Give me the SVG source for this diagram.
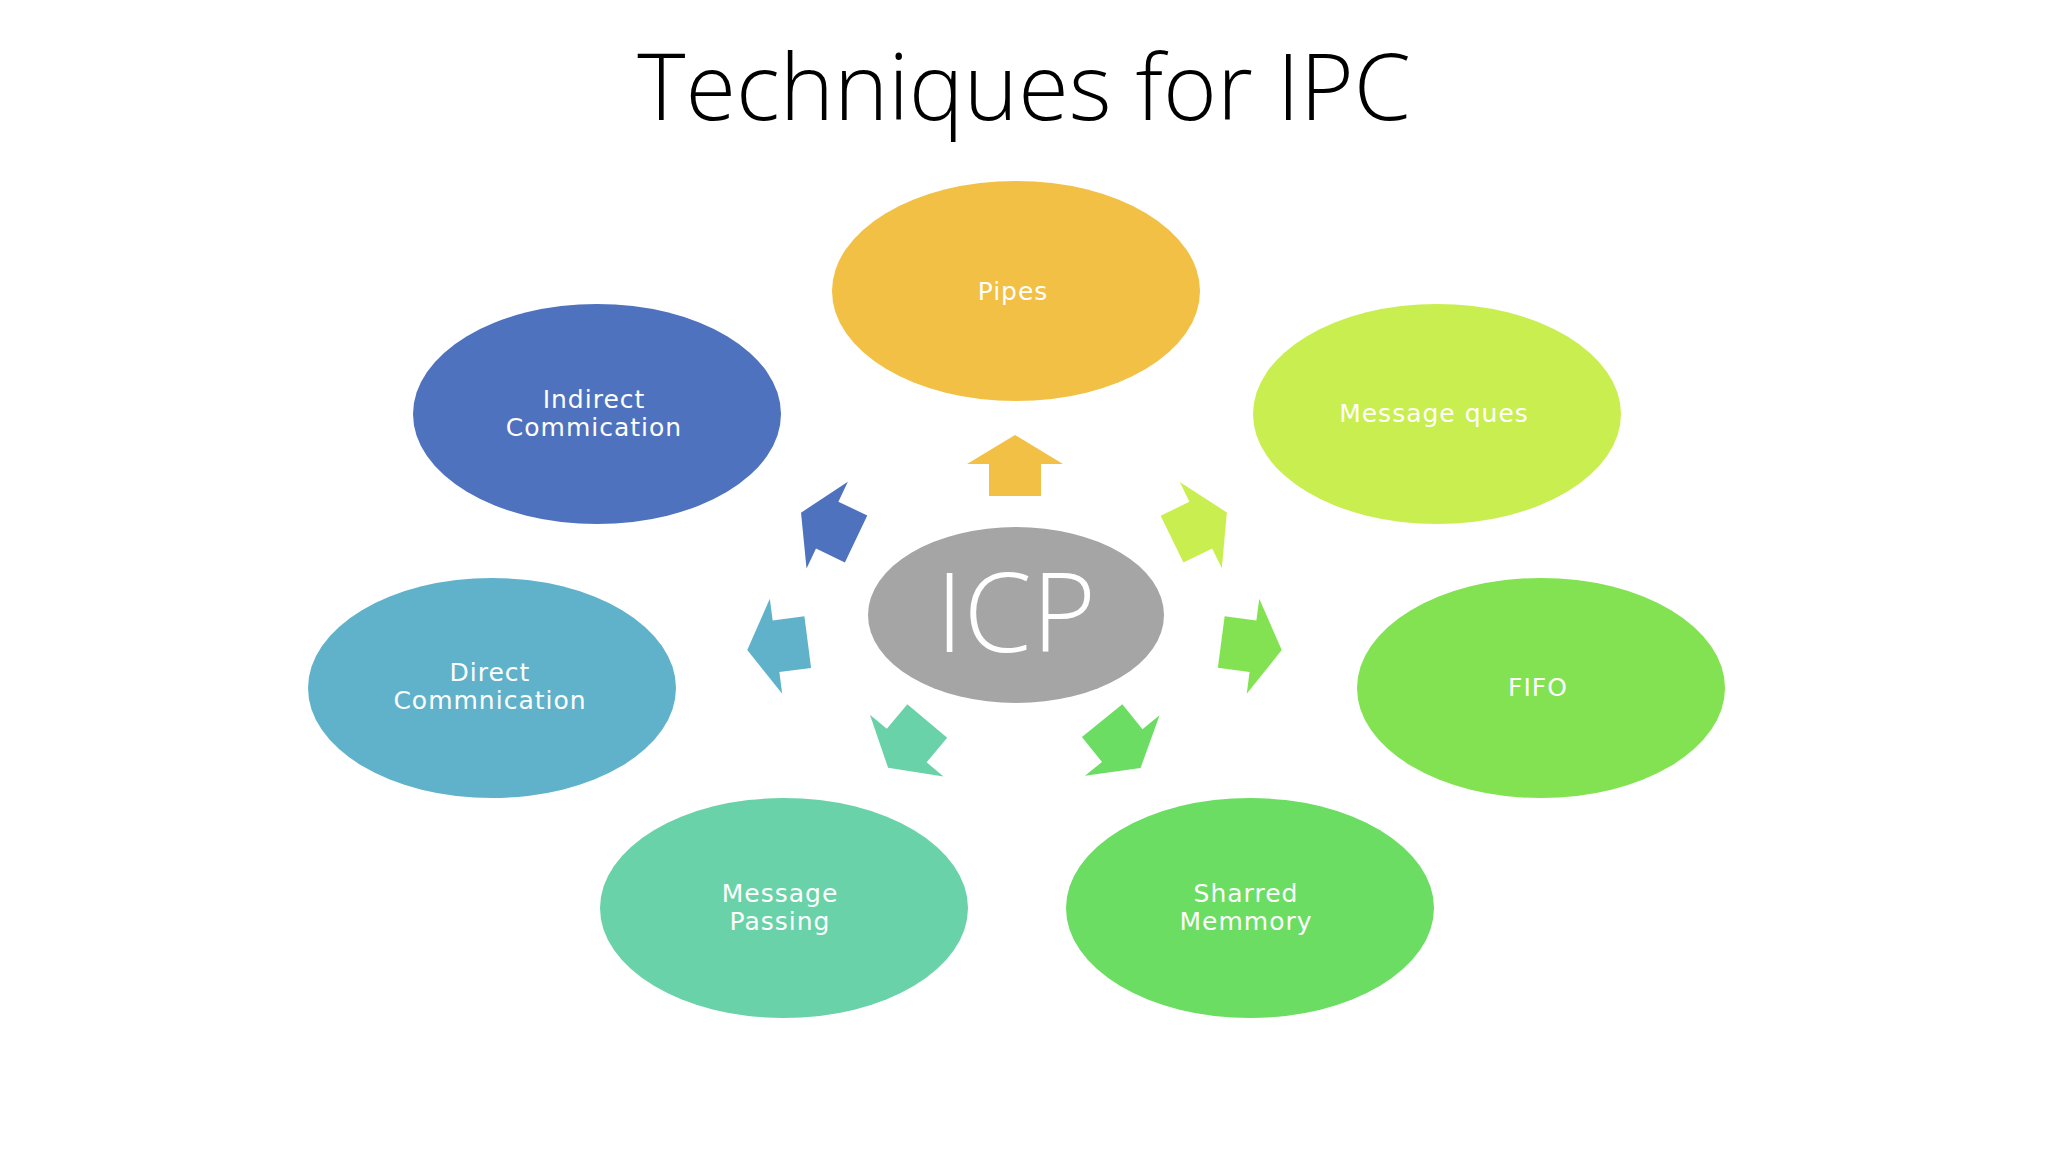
<svg xmlns="http://www.w3.org/2000/svg" width="2048" height="1152" viewBox="0 0 2048 1152">
<style>
.lbl{font-family:"DejaVu Sans",sans-serif;font-size:25px;fill:#fff;text-anchor:middle;letter-spacing:1px}
</style>
<defs><path id="arr" d="M0,-31 L48,-2 L26,-2 L26,30 L-26,30 L-26,-2 L-48,-2 Z"/></defs>
<rect width="2048" height="1152" fill="#fff"/>
<text x="1024" y="120" font-family="Open Sans,sans-serif" font-weight="300" font-size="92" text-anchor="middle" fill="#000">Techniques for IPC</text>
<g id="connectors">
<use href="#arr" fill="#F2C044" transform="translate(1015,466)"/>
<use href="#arr" fill="#4E72BE" transform="translate(829,526) rotate(-64.5)"/>
<use href="#arr" fill="#C9EE50" transform="translate(1199,526) rotate(64)"/>
<use href="#arr" fill="#60B2CB" transform="translate(778,646) rotate(-97.4)"/>
<use href="#arr" fill="#82E251" transform="translate(1251,646) rotate(97.5)"/>
<use href="#arr" fill="#6AD2A8" transform="translate(908,744) rotate(-140)"/>
<use href="#arr" fill="#6BDD62" transform="translate(1121,744) rotate(141)"/>
</g>
<g id="icp"><ellipse cx="1016" cy="615" rx="148" ry="88" fill="#A5A5A5"/><text x="1016" y="652" font-family="Open Sans,sans-serif" font-weight="300" font-size="110" fill="#fff" text-anchor="middle">ICP</text></g>
<g id="pipes"><ellipse cx="1016" cy="291" rx="184" ry="110" fill="#F2C044"/><text class="lbl" x="1013" y="300">Pipes</text></g>
<g id="indirect"><ellipse cx="597" cy="414" rx="184" ry="110" fill="#4E72BE"/><text class="lbl" x="594" y="408">Indirect</text><text class="lbl" x="594" y="436">Commication</text></g>
<g id="mq"><ellipse cx="1437" cy="414" rx="184" ry="110" fill="#C9EE50"/><text class="lbl" x="1434" y="422">Message ques</text></g>
<g id="direct"><ellipse cx="492" cy="688" rx="184" ry="110" fill="#60B2CB"/><text class="lbl" x="490" y="681">Direct</text><text class="lbl" x="490" y="709">Commnication</text></g>
<g id="fifo"><ellipse cx="1541" cy="688" rx="184" ry="110" fill="#82E251"/><text class="lbl" x="1538" y="696">FIFO</text></g>
<g id="mp"><ellipse cx="784" cy="908" rx="184" ry="110" fill="#6AD2A8"/><text class="lbl" x="780" y="902">Message</text><text class="lbl" x="780" y="930">Passing</text></g>
<g id="sm"><ellipse cx="1250" cy="908" rx="184" ry="110" fill="#6BDD62"/><text class="lbl" x="1246" y="902">Sharred</text><text class="lbl" x="1246" y="930">Memmory</text></g>
</svg>
